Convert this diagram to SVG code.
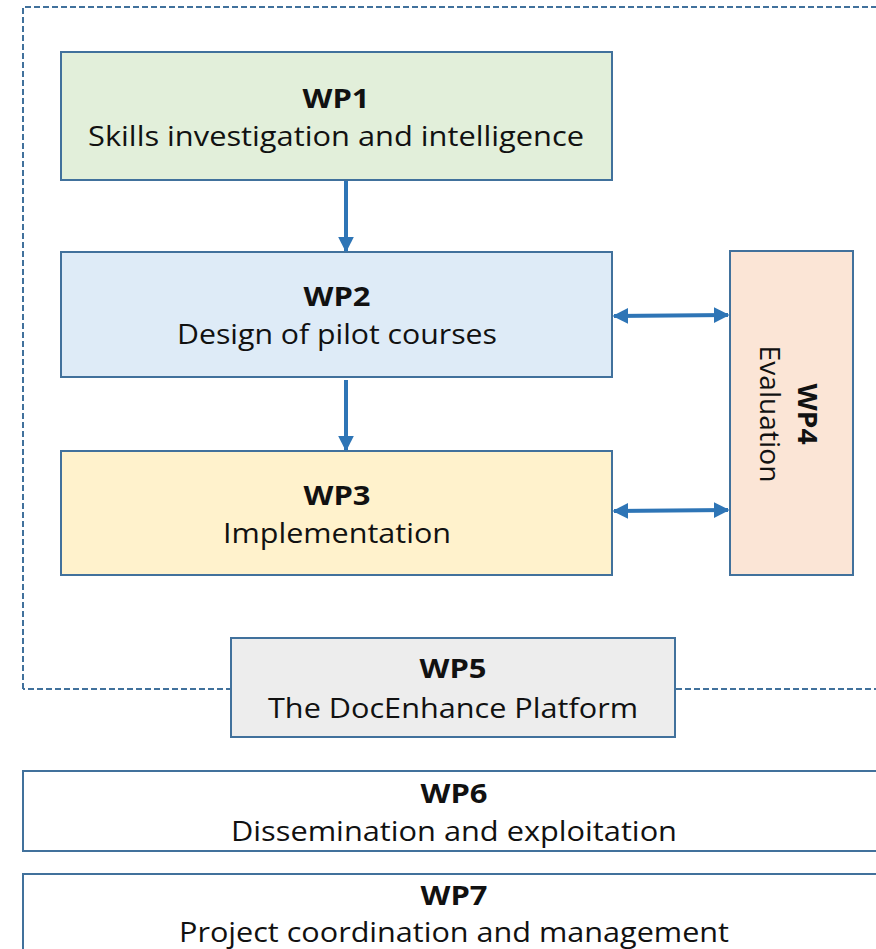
<svg xmlns="http://www.w3.org/2000/svg" width="876" height="949" viewBox="0 0 876 949">
<defs>
<style>
.box{stroke:#41719c;stroke-width:2}
.t{font-family:"Open Sans","Noto Sans",sans-serif;font-size:27px;fill:#111;text-anchor:middle}
.b{font-weight:bold}
.con{stroke:#2e75b6;stroke-width:4;fill:none}
</style>
<marker id="ah" viewBox="0 0 10 10" refX="9" refY="5" markerWidth="4" markerHeight="4" orient="auto-start-reverse" markerUnits="strokeWidth">
<path d="M0,0 L10,5 L0,10 z" fill="#2e75b6"/>
</marker>
</defs>
<rect width="876" height="949" fill="#fff"/>
<g id="frame">
<path d="M23,689 L23,7 L880,7 M880,689 L23,689" fill="none" stroke="#41719c" stroke-width="2" stroke-dasharray="6,3"/>
</g>
<g id="wp1">
<rect class="box" x="61" y="52" width="551" height="128" fill="#e2efda"/>
<text class="t b" x="336" y="108" textLength="67" lengthAdjust="spacingAndGlyphs">WP1</text>
<text class="t" x="336" y="146" textLength="496" lengthAdjust="spacingAndGlyphs">Skills investigation and intelligence</text>
</g>
<g id="wp2">
<rect class="box" x="61" y="252" width="551" height="125" fill="#deebf7"/>
<text class="t b" x="337" y="306" textLength="67" lengthAdjust="spacingAndGlyphs">WP2</text>
<text class="t" x="337" y="344" textLength="320" lengthAdjust="spacingAndGlyphs">Design of pilot courses</text>
</g>
<g id="wp3">
<rect class="box" x="61" y="451" width="551" height="124" fill="#fff2cc"/>
<text class="t b" x="337" y="505" textLength="67" lengthAdjust="spacingAndGlyphs">WP3</text>
<text class="t" x="337" y="543" textLength="228" lengthAdjust="spacingAndGlyphs">Implementation</text>
</g>
<g id="wp4">
<rect class="box" x="730" y="251" width="123" height="324" fill="#fbe5d6"/>
<text class="t b" transform="translate(798,414) rotate(90)" x="0" y="0" textLength="61" lengthAdjust="spacingAndGlyphs">WP4</text>
<text class="t" transform="translate(760,414) rotate(90)" x="0" y="0" textLength="137" lengthAdjust="spacingAndGlyphs">Evaluation</text>
</g>
<g id="wp5">
<rect class="box" x="231" y="638" width="444" height="99" fill="#ededed"/>
<text class="t b" x="453" y="678" textLength="67" lengthAdjust="spacingAndGlyphs">WP5</text>
<text class="t" x="453" y="718" textLength="370" lengthAdjust="spacingAndGlyphs">The DocEnhance Platform</text>
</g>
<g id="wp6">
<rect class="box" x="23" y="771" width="870" height="80" fill="#fff"/>
<text class="t b" x="454" y="803" textLength="67" lengthAdjust="spacingAndGlyphs">WP6</text>
<text class="t" x="454" y="841" textLength="446" lengthAdjust="spacingAndGlyphs">Dissemination and exploitation</text>
</g>
<g id="wp7">
<rect class="box" x="23" y="874" width="870" height="90" fill="#fff"/>
<text class="t b" x="454" y="905" textLength="67" lengthAdjust="spacingAndGlyphs">WP7</text>
<text class="t" x="454" y="942" textLength="550" lengthAdjust="spacingAndGlyphs">Project coordination and management</text>
</g>
<g id="connectors">
<line class="con" x1="346" y1="181" x2="346" y2="251" marker-end="url(#ah)"/>
<line class="con" x1="346" y1="380" x2="346" y2="450" marker-end="url(#ah)"/>
<line class="con" x1="614" y1="316" x2="728" y2="315" marker-start="url(#ah)" marker-end="url(#ah)"/>
<line class="con" x1="614" y1="511" x2="728" y2="510" marker-start="url(#ah)" marker-end="url(#ah)"/>
</g>
</svg>
